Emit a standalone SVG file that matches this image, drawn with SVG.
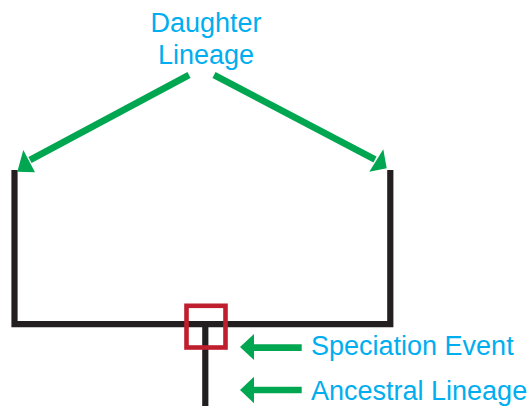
<svg xmlns="http://www.w3.org/2000/svg" width="530" height="406" viewBox="0 0 530 406">
  <style>
    .tree { fill: none; stroke: #231f20; stroke-width: 6.2; stroke-linejoin: miter; }
    .shaft { fill: none; stroke: #00a650; stroke-width: 6.6; }
    .head { fill: #00a650; }
    .label { font-family: "Liberation Sans", Arial, sans-serif; font-size: 27px; fill: #00aeef; }
  </style>
  <rect width="530" height="406" fill="#ffffff"/>

  <g id="tree">
    <path class="tree" d="M14.5,170 V324.2 H390.3 V170"/>
    <path class="tree" d="M205.3,324.2 V406"/>
  </g>

  <g id="speciation-marker">
    <rect x="186.5" y="305.8" width="39" height="41.7" fill="none" stroke="#be1e2d" stroke-width="4.6"/>
  </g>

  <g id="daughter-label">
    <text class="label" x="206" y="32" text-anchor="middle">Daughter</text>
    <text class="label" x="206" y="63.5" text-anchor="middle">Lineage</text>
  </g>

  <g id="speciation-label">
    <text class="label" x="311" y="355">Speciation Event</text>
  </g>

  <g id="ancestral-label">
    <text class="label" x="311" y="400">Ancestral Lineage</text>
  </g>

  <g id="connectors">
    <!-- daughter pointers -->
    <path class="shaft" d="M189,75 L30,160"/>
    <polygon class="head" points="17.3,171.7 23.3,150 35,172.3"/>
    <path class="shaft" d="M214,75 L375,159.5"/>
    <polygon class="head" points="386.7,168.3 383.3,149.3 369.3,171.7"/>
    <!-- side pointers -->
    <path class="shaft" d="M301.7,347.6 H252"/>
    <polygon class="head" points="240,347 254,334 254,360"/>
    <path class="shaft" d="M301.7,390 H252"/>
    <polygon class="head" points="240,390 254,376.7 254,403.3"/>
  </g>
</svg>
